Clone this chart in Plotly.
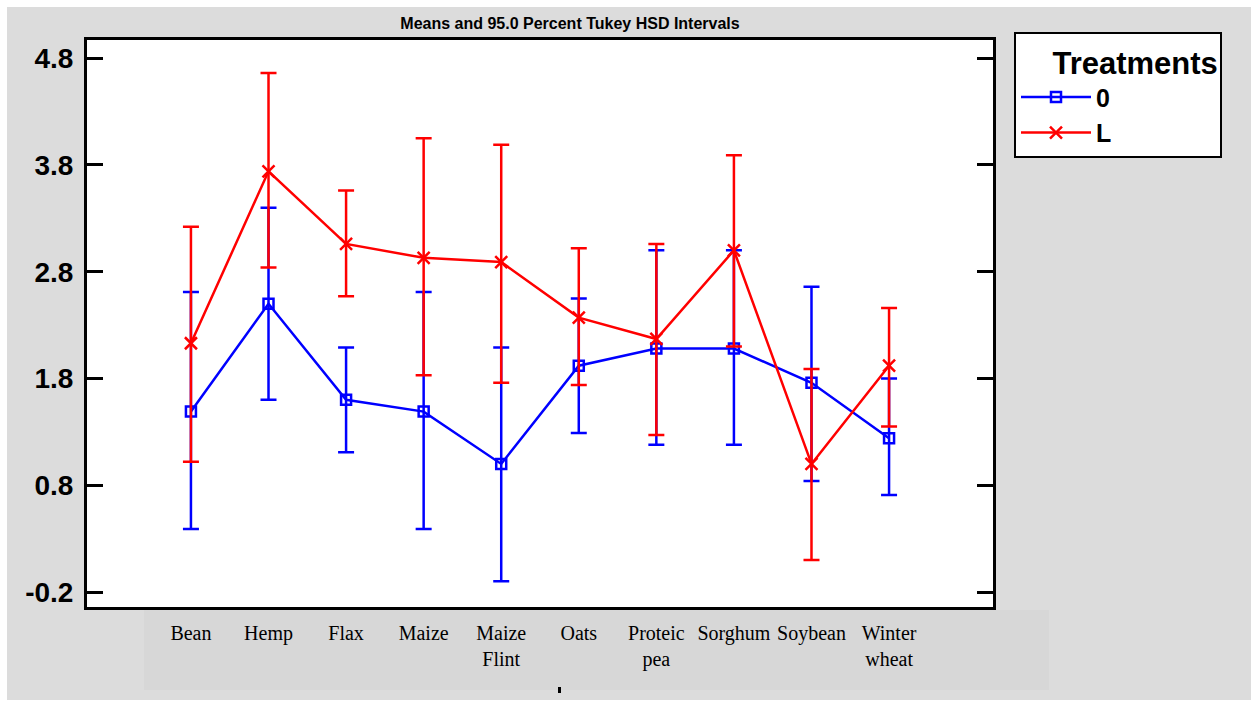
import plotly.graph_objects as go

# ---- data ----
categories = ["Bean", "Hemp", "Flax", "Maize", "Maize Flint", "Oats",
              "Proteic pea", "Sorghum", "Soybean", "Winter wheat"]
tick_labels = ["Bean", "Hemp", "Flax", "Maize", "Maize<br>Flint", "Oats",
               "Proteic<br>pea", "Sorghum", "Soybean", "Winter<br>wheat"]

mean_0 = [1.49, 2.50, 1.60, 1.49, 1.00, 1.92, 2.08, 2.08, 1.76, 1.24]
upper_0 = [2.61, 3.40, 2.09, 2.61, 2.09, 2.55, 3.00, 3.00, 2.66, 1.80]
lower_0 = [0.39, 1.60, 1.11, 0.39, -0.10, 1.29, 1.18, 1.18, 0.84, 0.71]

mean_L = [2.13, 3.74, 3.06, 2.93, 2.89, 2.37, 2.17, 3.00, 1.00, 1.92]
upper_L = [3.22, 4.66, 3.56, 4.05, 3.99, 3.02, 3.06, 3.89, 1.89, 2.46]
lower_L = [1.02, 2.84, 2.57, 1.83, 1.76, 1.74, 1.27, 2.10, 0.10, 1.35]

y_ticks = [-0.2, 0.8, 1.8, 2.8, 3.8, 4.8]
y_tick_text = ["-0.2", "0.8", "1.8", "2.8", "3.8", "4.8"]

series = [
    ("0", mean_0, upper_0, lower_0, "#0000ff", "square-open", 10),
    ("L", mean_L, upper_L, lower_L, "#ff0000", "x-thin", 12),
]

fig = go.Figure()
for name, m, up, lo, color, symbol, msize in series:
    fig.add_trace(go.Scatter(
        x=categories, y=m, name=name, mode="lines+markers",
        line=dict(color=color, width=2.5),
        marker=dict(symbol=symbol, size=msize, color=color,
                    line=dict(color=color, width=2.5)),
        error_y=dict(type="data", symmetric=False,
                     array=[u - v for u, v in zip(up, m)],
                     arrayminus=[v - l for v, l in zip(m, lo)],
                     color=color, thickness=2.5, width=8),
    ))

W, H = 1258, 704
L, R, T, B = 87, 993, 40, 607
pw, ph = R - L, B - T


def px(x):
    return (x - L) / pw


def py(y):
    return (B - y) / ph


white_edges = [(0, 0, W, 7), (0, 0, 7, H), (1251, 0, W, H), (0, 700, W, H)]
shapes = [
    dict(type="rect", xref="paper", yref="paper", layer="below",
         x0=px(a), x1=px(c), y0=py(d), y1=py(b),
         fillcolor="white", line=dict(width=0))
    for a, b, c, d in white_edges
]
shapes += [
    # grey label panel
    dict(type="rect", xref="paper", yref="paper", layer="below",
         x0=px(144), x1=px(1049), y0=py(690), y1=py(610),
         fillcolor="#d7d7d7", line=dict(width=0)),
    # small black mark under the labels
    dict(type="rect", xref="paper", yref="paper", layer="above",
         x0=px(558), x1=px(561), y0=py(693), y1=py(687),
         fillcolor="black", line=dict(width=0)),
]

fig.update_layout(
    width=W, height=H,
    margin=dict(l=L, r=W - R, t=T, b=H - B, pad=0),
    paper_bgcolor="#dcdcdc", plot_bgcolor="white",
    shapes=shapes,
    title=dict(text="<b>Means and 95.0 Percent Tukey HSD Intervals</b>",
               x=570 / W, xanchor="center", y=1 - 23 / H, yanchor="middle",
               font=dict(family="Liberation Sans, Arial", size=16, color="black")),
    xaxis=dict(type="category", range=[-1.34, 10.34],
               tickmode="array", tickvals=categories, ticktext=tick_labels,
               ticks="", showgrid=False, zeroline=False,
               showline=True, linecolor="black", linewidth=3, mirror=True,
               ticklabelstandoff=6,
               tickfont=dict(family="Liberation Serif, Times New Roman", size=20, color="black")),
    yaxis=dict(range=[-0.34, 4.97], tickmode="array", tickvals=y_ticks, ticktext=y_tick_text,
               ticks="inside", ticklen=16, tickwidth=2.5, tickcolor="black",
               showgrid=False, zeroline=False,
               showline=True, linecolor="black", linewidth=3, mirror="ticks",
               ticklabelstandoff=5,
               tickfont=dict(family="Liberation Sans, Arial", size=28, color="black", weight="bold")),
    legend=dict(x=px(1014), xanchor="left", y=py(32), yanchor="top",
                bgcolor="white", bordercolor="black", borderwidth=2,
                title=dict(text="<b>&nbsp;&nbsp;&nbsp;&nbsp;Treatments</b>",
                           font=dict(family="Liberation Sans, Arial", size=31, color="black"),
                           side="top"),
                font=dict(family="Liberation Sans, Arial", size=25, color="black", weight="bold"),
                itemwidth=70, tracegroupgap=0),
    showlegend=True,
)

fig.write_html("out.html")
